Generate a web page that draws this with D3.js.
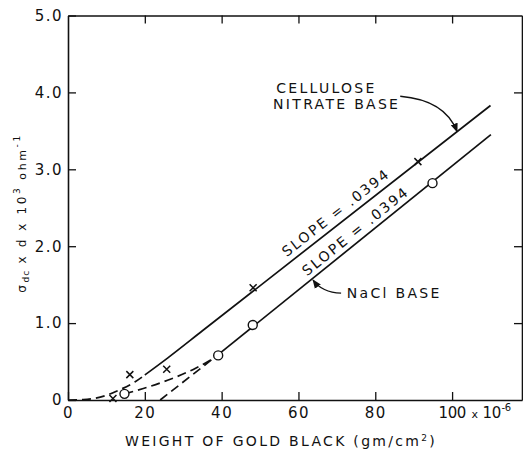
<!DOCTYPE html>
<html>
<head>
<meta charset="utf-8">
<script src="https://cdn.jsdelivr.net/npm/d3@7"></script>
<style>
  body { margin: 0; background: #fff; }
  text { font-family: "DejaVu Sans", sans-serif; fill: #111; }
</style>
</head>
<body>
<svg id="chart" width="523" height="449"></svg>
<script>
// tick values
const xTicks = [0, 20, 40, 60, 80, 100];
const yTicks = [0, 1, 2, 3, 4, 5];

// measured points (weight x 10^-6 gm/cm2, sigma*d*10^3)
const celluloseMarks = [[11.7, 0.02], [16.1, 0.33], [25.7, 0.40], [48.2, 1.46], [91.1, 3.10]];
const naclMarks = [[14.7, 0.08], [39.1, 0.58], [48.1, 0.975], [94.9, 2.82]];

// drawn curves
const celluloseDashed = [[0, 0], [4, 0.005], [9.6, 0.055], [13.1, 0.125], [17.4, 0.235], [20, 0.325]];
const celluloseSolid = [[20, 0.325], [26, 0.548], [35, 0.90], [110, 3.83]];
const naclDashedCurve = [[14.7, 0.08], [19.6, 0.15], [26.1, 0.26], [33.1, 0.41], [37.8, 0.54], [39.1, 0.58]];
const naclExtrapolated = [[24.0, 0], [39.1, 0.59]];
const naclSolid = [[39.1, 0.59], [110.1, 3.45]];

// annotations
const slopeLabel = "SLOPE = .0394";
const celluloseArrow = [[86.5, 3.95], [98.2, 3.90], [101.3, 3.49]];
const naclArrow = [[71.1, 1.39], [66.1, 1.40], [63.8, 1.56]];

const margin = { top: 15.5, right: 1, bottom: 49, left: 68 };
const width = 523 - margin.left - margin.right;
const height = 449 - margin.top - margin.bottom;

const svg = d3.select("#chart");
const g = svg.append("g").attr("transform", `translate(${margin.left},${margin.top})`);

const x = d3.scaleLinear().domain([0, 118.2]).range([0, width]);
const y = d3.scaleLinear().domain([0, 5]).range([height, 0]);

const defs = svg.append("defs");
defs.append("marker")
  .attr("id", "arrow")
  .attr("viewBox", "0 0 10 10")
  .attr("refX", 9).attr("refY", 5)
  .attr("markerWidth", 7).attr("markerHeight", 7)
  .attr("orient", "auto")
  .append("path").attr("d", "M0,1 L10,5 L0,9 Z").attr("fill", "#111");

// axes
const xAxis = g.append("g")
  .attr("transform", `translate(0,${height})`)
  .call(d3.axisBottom(x).tickValues(xTicks).tickSize(-8).tickSizeOuter(0).tickPadding(7));

g.append("g")
  .call(d3.axisLeft(y).tickValues(yTicks).tickSize(-8).tickSizeOuter(0).tickPadding(5)
    .tickFormat(d => d === 0 ? "0" : d3.format(".1f")(d)));

g.append("g")
  .call(d3.axisTop(x).tickValues(xTicks.slice(1)).tickSize(-8).tickSizeOuter(0).tickFormat(""));

g.append("g")
  .attr("transform", `translate(${width},0)`)
  .call(d3.axisRight(y).tickValues(yTicks.slice(1, 5)).tickSize(-8).tickSizeOuter(0).tickFormat(""));

g.selectAll(".domain").attr("stroke", "#111").attr("stroke-width", 1.6);
g.selectAll(".tick line").attr("stroke", "#111").attr("stroke-width", 1.3);
g.selectAll(".tick text")
  .style("font-size", "15px")
  .style("letter-spacing", "1.5px")
  .attr("fill", "#111");

// last x tick carries the unit multiplier
xAxis.selectAll(".tick text").filter(d => d === 100)
  .attr("text-anchor", "start")
  .style("letter-spacing", "-0.5px")
  .text(null)
  .call(t => {
    t.append("tspan").attr("x", -14).text("100");
    t.append("tspan").attr("x", 19).style("font-size", "11px").text("x");
    t.append("tspan").attr("x", 30).text("10");
    t.append("tspan").attr("x", 49).attr("dy", -7).style("font-size", "10px").text("-6");
  });

// curves
const line = d3.line().x(d => x(d[0])).y(d => y(d[1])).curve(d3.curveMonotoneX);

const curves = [
  { data: celluloseDashed, dash: "9,5" },
  { data: celluloseSolid, dash: null },
  { data: naclDashedCurve, dash: "9,5" },
  { data: naclExtrapolated, dash: "9,5" },
  { data: naclSolid, dash: null }
];

g.append("g")
  .selectAll("path")
  .data(curves)
  .enter()
  .append("path")
  .attr("d", d => line(d.data))
  .attr("fill", "none")
  .attr("stroke", "#111")
  .attr("stroke-width", 1.7)
  .attr("stroke-dasharray", d => d.dash);

// markers
const xMark = 3.5;
g.append("g")
  .selectAll("path")
  .data(celluloseMarks)
  .enter()
  .append("path")
  .attr("d", d => {
    const cx = x(d[0]), cy = y(d[1]);
    return `M${cx - xMark},${cy - xMark}L${cx + xMark},${cy + xMark}M${cx - xMark},${cy + xMark}L${cx + xMark},${cy - xMark}`;
  })
  .attr("stroke", "#111")
  .attr("stroke-width", 1.5);

g.append("g")
  .selectAll("circle")
  .data(naclMarks)
  .enter()
  .append("circle")
  .attr("cx", d => x(d[0]))
  .attr("cy", d => y(d[1]))
  .attr("r", 4.5)
  .attr("fill", "#fff")
  .attr("stroke", "#111")
  .attr("stroke-width", 1.4);

// slope labels along lines
const angleOf = pts => Math.atan2(y(pts[1][1]) - y(pts[0][1]), x(pts[1][0]) - x(pts[0][0])) * 180 / Math.PI;
const onLine = (pts, xv) => pts[0][1] + (pts[1][1] - pts[0][1]) * (xv - pts[0][0]) / (pts[1][0] - pts[0][0]);

const cellLine = [celluloseSolid[2], celluloseSolid[3]];
const slopes = [
  { pts: cellLine, xv: 71.5, dy: -6 },
  { pts: naclSolid, xv: 76.5, dy: -5 }
];
g.append("g")
  .selectAll("text")
  .data(slopes)
  .enter()
  .append("text")
  .attr("transform", d => `translate(${x(d.xv)},${y(onLine(d.pts, d.xv))}) rotate(${angleOf(d.pts)})`)
  .attr("dy", d => d.dy)
  .attr("text-anchor", "middle")
  .style("font-size", "14px")
  .style("letter-spacing", "2.1px")
  .text(slopeLabel);

// labels
const labelStyle = sel => sel.style("font-size", "14px").style("letter-spacing", "2.3px");
g.append("text").attr("x", x(54.2)).attr("y", y(3.99)).call(labelStyle).text("CELLULOSE");
g.append("text").attr("x", x(53.4)).attr("y", y(3.78)).call(labelStyle).text("NITRATE BASE");
g.append("text").attr("x", x(72.6)).attr("y", y(1.33)).call(labelStyle).text("NaCl BASE");

const quad = pts => `M${x(pts[0][0])},${y(pts[0][1])}Q${x(pts[1][0])},${y(pts[1][1])} ${x(pts[2][0])},${y(pts[2][1])}`;
[celluloseArrow, naclArrow].forEach(pts => {
  g.append("path")
    .attr("d", quad(pts))
    .attr("fill", "none")
    .attr("stroke", "#111")
    .attr("stroke-width", 1.3)
    .attr("marker-end", "url(#arrow)");
});

// axis titles
svg.append("text")
  .attr("x", 281)
  .attr("y", 446)
  .attr("text-anchor", "middle")
  .style("font-size", "14px")
  .style("letter-spacing", "2.3px")
  .text("WEIGHT OF GOLD BLACK (gm/cm")
  .call(t => {
    t.append("tspan").attr("dy", -5).style("font-size", "9px").text("2");
    t.append("tspan").attr("dy", 5).text(")");
  });

const yTitle = svg.append("text")
  .attr("transform", "translate(26,213) rotate(-90)")
  .attr("text-anchor", "middle")
  .style("font-size", "12px")
  .style("letter-spacing", "2.6px");
yTitle.append("tspan").text("σ");
yTitle.append("tspan").attr("dy", 3).style("font-size", "9px").style("letter-spacing", "1px").text("dc");
yTitle.append("tspan").attr("dy", -3).text(" x d x 10");
yTitle.append("tspan").attr("dy", -6).style("font-size", "9px").text("3");
yTitle.append("tspan").attr("dy", 6).style("font-size", "11px").text(" ohm");
yTitle.append("tspan").attr("dy", -6).style("font-size", "9px").text("-1");
</script>
</body>
</html>
